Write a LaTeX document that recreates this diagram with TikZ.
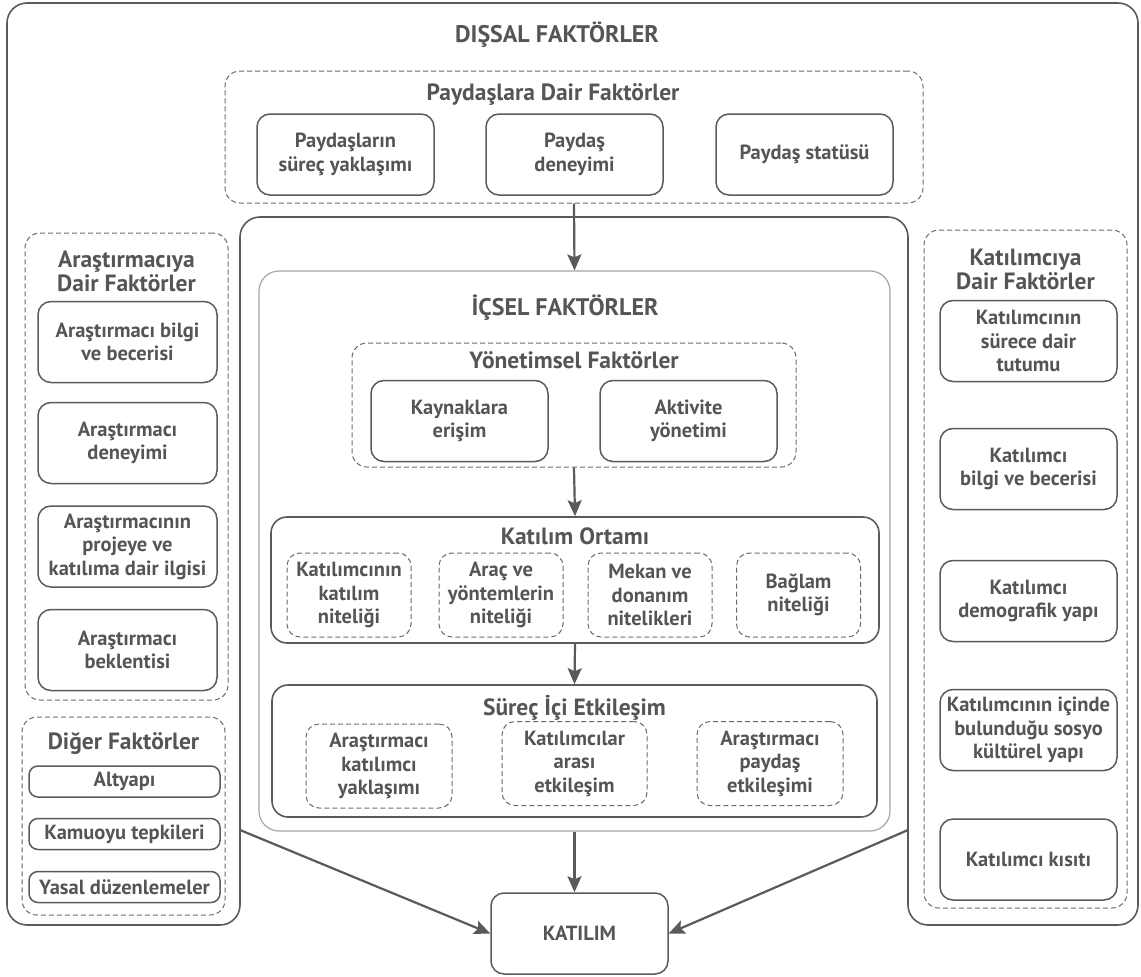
\documentclass[tikz,border=0pt]{standalone}
\usepackage{fontspec}
\setmainfont{PT Sans}
\usepackage{tikz}
\usetikzlibrary{arrows.meta}
\usepackage{xcolor}
\definecolor{cizgi}{HTML}{5A5A56}
\definecolor{yazi}{HTML}{555557}
\definecolor{acik}{HTML}{A5A5A5}
\newcommand{\kutuyazi}{\fontsize{20.5}{23.5}\selectfont\bfseries}
\newcommand{\baslikyazi}{\fontsize{23.5}{24}\selectfont\bfseries}
\newcommand{\anayazi}{\fontsize{24}{26}\selectfont\bfseries}
\tikzset{
        faktor/.style = {draw = cizgi, line width = 1.5pt, rounded corners = 13pt, align = center, text = yazi, font = \kutuyazi, minimum width = 177pt, minimum height = 81pt, inner sep = 1pt},
        kisa/.style = {faktor, rounded corners = 9pt, minimum width = 191pt, minimum height = 31pt},
        nitelik/.style = {faktor, draw = cizgi!90, line width = 1pt, dash pattern = on 5pt off 3pt, minimum width = 124pt, minimum height = 84pt},
        grup/.style = {draw = cizgi!90, line width = 1pt, dash pattern = on 5pt off 3pt, rounded corners = 15pt, inner sep = 0pt},
        kap/.style = {draw = cizgi, line width = 1.6pt, rounded corners = 16pt, inner sep = 0pt},
        baslik/.style = {align = center, text = yazi, font = \baslikyazi, inner sep = 0pt},
        anabaslik/.style = {text = yazi, font = \anayazi, inner sep = 0pt},
        ok/.style = {draw = cizgi, line width = 2.2pt, -{Stealth[length = 16pt, width = 14pt, inset = 3pt]}}
}

\begin{document}
\begin{tikzpicture}[x = 1pt, y = -1pt]
        \useasboundingbox (0,0) rectangle (1141,977);

        \draw[draw = cizgi, line width = 1.6pt, rounded corners = 20pt] (574,217) -- (908,217) -- (908,925) -- (1138,925) -- (1138,3) -- (7,3) -- (7,925) -- (240,925) -- (240,217) -- cycle;
        \coordinate (sol) at (240,830);
        \coordinate (sag) at (908,830);

        \node[anabaslik] (dissal) at (557,35) {DIŞSAL FAKTÖRLER};

        \node[grup, minimum width = 698pt, minimum height = 132pt] (paydas) at (574,137) {};
        \node[baslik] (paydasbaslik) at (553,94) {Paydaşlara Dair Faktörler};
        \node[faktor] (paydas1) at (345.5,154.5) {Paydaşların\\süreç yaklaşımı};
        \node[faktor] (paydas2) at (574.5,154.5) {Paydaş\\deneyimi};
        \node[faktor] (paydas3) at (804.5,154.5) {Paydaş statüsü};

        \node[grup, minimum width = 203pt, minimum height = 467pt] (arastirmaci) at (126.5,466.5) {};
        \node[baslik] (arastirmacibaslik) at (126.5,271.5) {Araştırmacıya\\Dair Faktörler};
        \node[faktor, minimum width = 179pt] (arastirmaci1) at (127.5,342) {Araştırmacı bilgi\\ve becerisi};
        \node[faktor, minimum width = 179pt] (arastirmaci2) at (127.5,443) {Araştırmacı\\deneyimi};
        \node[faktor, minimum width = 179pt] (arastirmaci3) at (127.5,546.5) {Araştırmacının\\projeye ve\\katılıma dair ilgisi};
        \node[faktor, minimum width = 179pt] (arastirmaci4) at (127.5,650) {Araştırmacı\\beklentisi};

        \node[grup, minimum width = 203pt, minimum height = 198pt] (diger) at (123.5,816) {};
        \node[baslik] (digerbaslik) at (123.5,744) {Diğer Faktörler};
        \node[kisa] (diger1) at (124.5,781.5) {Altyapı};
        \node[kisa] (diger2) at (124.5,834) {Kamuoyu tepkileri};
        \node[kisa] (diger3) at (124.5,887) {Yasal düzenlemeler};

        \node[grup, minimum width = 203pt, minimum height = 678pt] (katilimci) at (1025.5,569) {};
        \node[baslik] (katilimcibaslik) at (1025.5,269) {Katılımcıya\\Dair Faktörler};
        \node[faktor] (katilimci1) at (1028.5,341) {Katılımcının\\sürece dair\\tutumu};
        \node[faktor] (katilimci2) at (1028.5,469) {Katılımcı\\bilgi ve becerisi};
        \node[faktor] (katilimci3) at (1028.5,601) {Katılımcı\\demografik yapı};
        \node[faktor] (katilimci4) at (1028.5,730) {Katılımcının içinde\\bulunduğu sosyo\\kültürel yapı};
        \node[faktor] (katilimci5) at (1028.5,859.5) {Katılımcı kısıtı};

        \node[kap, draw = acik, line width = 1.2pt, rounded corners = 20pt, minimum width = 631pt, minimum height = 560pt] (icsel) at (574.5,551) {};
        \node[anabaslik] (icselbaslik) at (565,308) {İÇSEL FAKTÖRLER};

        \node[grup, minimum width = 444pt, minimum height = 124pt] (yonetim) at (574,405) {};
        \node[baslik] (yonetimbaslik) at (574,360) {Yönetimsel Faktörler};
        \node[faktor] (yonetim1) at (459.5,421) {Kaynaklara\\erişim};
        \node[faktor] (yonetim2) at (688.5,421) {Aktivite\\yönetimi};

        \node[kap, minimum width = 608pt, minimum height = 126pt] (ortam) at (575,580) {};
        \node[baslik] (ortambaslik) at (575,536) {Katılım Ortamı};
        \node[nitelik] (ortam1) at (349,595) {Katılımcının\\katılım\\niteliği};
        \node[nitelik] (ortam2) at (501,595) {Araç ve\\yöntemlerin\\niteliği};
        \node[nitelik] (ortam3) at (650,595) {Mekan ve\\donanım\\nitelikleri};
        \node[nitelik] (ortam4) at (798.5,595) {Bağlam\\niteliği};

        \node[kap, minimum width = 605pt, minimum height = 132pt] (surec) at (574.5,751) {};
        \node[baslik] (surecbaslik) at (574.5,708) {Süreç İçi Etkileşim};
        \node[nitelik, minimum width = 146pt] (surec1) at (379,766) {Araştırmacı\\katılımcı\\yaklaşımı};
        \node[nitelik, minimum width = 145pt] (surec2) at (574.5,763.5) {Katılımcılar\\arası\\etkileşim};
        \node[nitelik, minimum width = 146pt] (surec3) at (770,763.5) {Araştırmacı\\paydaş\\etkileşimi};

        \node[faktor] (katilim) at (579.5,933.5) {KATILIM};

        \draw[ok] (paydas.south) -- (icsel.north);
        \draw[ok] (yonetim.south) -- (ortam.north);
        \draw[ok] (ortam.south) -- (surec.north);
        \draw[ok] (icsel.south) -- (icsel.south |- katilim.north);
        \draw[ok] (sol) -- (katilim.west);
        \draw[ok] (sag) -- (katilim.east);
\end{tikzpicture}
\end{document}
